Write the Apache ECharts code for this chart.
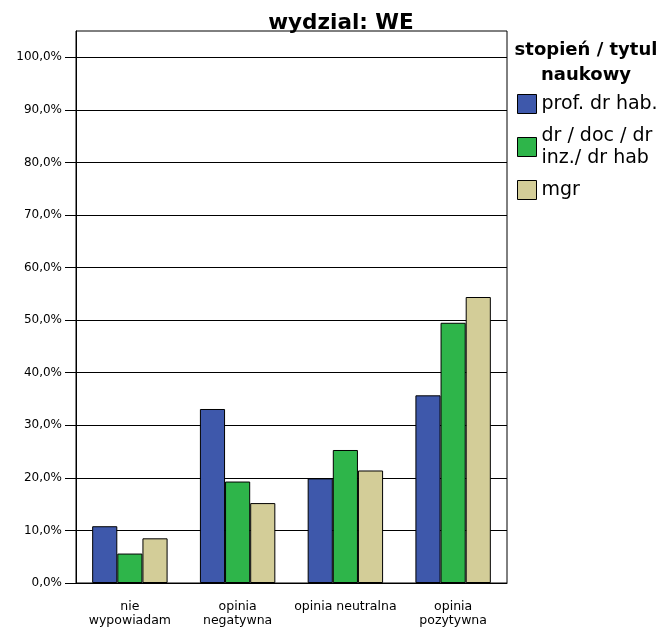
<!DOCTYPE html>
<html>
<head>
<meta charset="utf-8">
<script src="https://cdn.jsdelivr.net/npm/echarts@6/dist/echarts.min.js"></script>
<style>
  html, body { margin: 0; padding: 0; background: #fff; }
  #chart { width: 664px; height: 633px; }
</style>
</head>
<body>
<div id="chart"></div>
<script>
// kategorie odpowiedzi
var categories = ['nie\nwypowiadam', 'opinia\nnegatywna', 'opinia neutralna', 'opinia\npozytywna'];
// stopień / tytul naukowy
var seriesNames = ['prof. dr hab.', 'dr / doc / dr\ninz./ dr hab', 'mgr'];
var profValues = [10.8, 33.1, 19.9, 35.7];
var drValues = [5.6, 19.3, 25.3, 49.5];
var mgrValues = [8.5, 15.2, 21.4, 54.4];
var yTicks = [0, 10, 20, 30, 40, 50, 60, 70, 80, 90, 100];
var colors = ['#3e58ab', '#2eb54a', '#d3cd98'];

var font = '"DejaVu Sans", sans-serif';

var makeSeries = function (name, data, color) {
    return {
        name: name,
        type: 'bar',
        data: data,
        barGap: '0%',
        barCategoryGap: '30%',
        itemStyle: { color: color, borderColor: '#000', borderWidth: 1 }
    };
};

var chart = echarts.init(document.getElementById('chart'), null, { renderer: 'canvas' });
var option = {
    animation: false,
    backgroundColor: '#fff',
    color: colors,
    title: {
        text: 'wydzial: WE',
        left: 336, top: 7, textAlign: 'center',
        textStyle: { fontFamily: font, fontSize: 21.5, fontWeight: 'bold', color: '#000' }
    },
    legend: {
        orient: 'vertical',
        left: 517, top: 93,
        padding: 0,
        itemWidth: 19, itemHeight: 19,
        itemGap: 10,
        icon: 'rect',
        data: seriesNames,
        textStyle: { fontFamily: font, fontSize: 19, color: '#000', lineHeight: 22 },
        itemStyle: { borderColor: '#000', borderWidth: 1 }
    },
    graphic: [{
        type: 'text',
        x: 586, y: 38,
        style: {
            text: 'stopień / tytul\nnaukowy',
            align: 'center',
            verticalAlign: 'top',
            font: 'bold 18px ' + font,
            lineHeight: 25,
            fill: '#000'
        }
    }],
    grid: {
        left: 76, right: 157, top: 31, bottom: 50,
        show: true, borderColor: '#000', borderWidth: 1
    },
    xAxis: {
        type: 'category',
        data: categories,
        axisLine: { lineStyle: { color: '#000' } },
        axisTick: { alignWithLabel: true, length: 10, lineStyle: { color: '#000' } },
        axisLabel: { fontFamily: font, fontSize: 12.5, color: '#000', margin: 17, lineHeight: 14, interval: 0 }
    },
    yAxis: {
        type: 'value',
        min: 0, max: 105, interval: 10,
        axisLine: { show: true, lineStyle: { color: '#000' } },
        axisTick: { show: true, length: 11, customValues: yTicks, lineStyle: { color: '#000' } },
        splitLine: { lineStyle: { color: '#000', width: 1 } },
        axisLabel: {
            fontFamily: font, fontSize: 12, color: '#000', margin: 14,
            customValues: yTicks,
            formatter: function (v) {
                return v.toFixed(1).replace('.', ',') + '%';
            }
        }
    },
    series: [
        makeSeries(seriesNames[0], profValues, colors[0]),
        makeSeries(seriesNames[1], drValues, colors[1]),
        makeSeries(seriesNames[2], mgrValues, colors[2])
    ]
};
chart.setOption(option);
</script>
</body>
</html>
